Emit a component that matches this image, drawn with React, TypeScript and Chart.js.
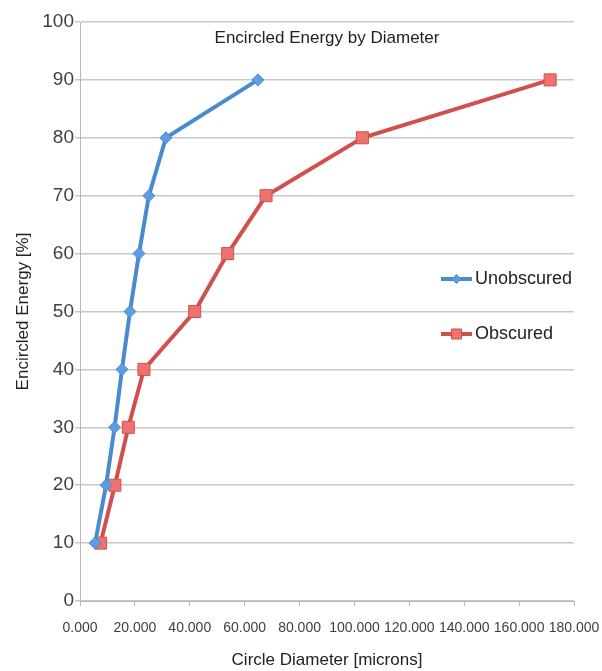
import React, { useEffect, useRef } from "react";
import { Chart, registerables } from "chart.js";

Chart.register(...registerables);

const energyLevels = [10, 20, 30, 40, 50, 60, 70, 80, 90];
const unobscuredDiam = [5.5, 9.5, 12.6, 15.3, 18.2, 21.5, 25.1, 31.3, 64.8];
const obscuredDiam = [7.5, 12.7, 17.6, 23.3, 41.8, 53.8, 67.8, 102.9, 171.3];
const seriesNames = ["Unobscured", "Obscured"];
const chartTitle = "Encircled Energy by Diameter";
const xTitle = "Circle Diameter [microns]";
const yTitle = "Encircled Energy [%]";

const FONT = "'Liberation Sans', Arial, sans-serif";
const TEXT = "#404040";
const BLUE = "#4a8bd0";
const BLUE_FILL = "#5f9de2";
const RED = "#d0504d";
const RED_FILL = "#f07270";

const overlayPlugin = {
  id: "overlay",
  afterDraw(chart: any) {
    const { ctx, chartArea } = chart;
    ctx.save();
    ctx.fillStyle = "#222";
    ctx.font = `17px ${FONT}`;
    ctx.textAlign = "center";
    ctx.textBaseline = "middle";
    ctx.fillText(chartTitle, (chartArea.left + chartArea.right) / 2, chartArea.top + 16);

    const items = [
      { name: seriesNames[0], color: BLUE, fill: BLUE_FILL, style: "rectRot", r: 4.5, y: 279 - 22 },
      { name: seriesNames[1], color: RED, fill: RED_FILL, style: "rect", r: 5, y: 334 - 22 },
    ];
    items.forEach((it) => {
      const y = chartArea.top + it.y;
      const x0 = chartArea.right - 133;
      const x1 = chartArea.right - 102;
      ctx.strokeStyle = it.color;
      ctx.lineWidth = 4;
      ctx.beginPath();
      ctx.moveTo(x0, y);
      ctx.lineTo(x1, y);
      ctx.stroke();
      ctx.fillStyle = it.fill;
      ctx.strokeStyle = it.color;
      ctx.lineWidth = 1;
      const cx = (x0 + x1) / 2;
      ctx.beginPath();
      if (it.style === "rectRot") {
        ctx.moveTo(cx, y - it.r);
        ctx.lineTo(cx + it.r, y);
        ctx.lineTo(cx, y + it.r);
        ctx.lineTo(cx - it.r, y);
        ctx.closePath();
      } else {
        ctx.rect(cx - it.r, y - it.r, it.r * 2, it.r * 2);
      }
      ctx.fill();
      ctx.stroke();
      ctx.fillStyle = "#222";
      ctx.font = `18px ${FONT}`;
      ctx.textAlign = "left";
      ctx.fillText(it.name, x1 + 3, y);
    });
    ctx.restore();
  },
};

export default function App() {
  const ref = useRef<HTMLCanvasElement>(null);
  useEffect(() => {
    document.body.style.margin = "0";
    const chart = new Chart(ref.current!, {
      type: "scatter",
      data: {
        datasets: [
          {
            label: seriesNames[0],
            data: unobscuredDiam.map((x, i) => ({ x, y: energyLevels[i] })),
            showLine: true,
            borderColor: BLUE,
            backgroundColor: BLUE_FILL,
            borderWidth: 4,
            pointStyle: "rectRot",
            pointRadius: 6,
            pointBorderWidth: 1,
            pointBorderColor: BLUE,
          },
          {
            label: seriesNames[1],
            data: obscuredDiam.map((x, i) => ({ x, y: energyLevels[i] })),
            showLine: true,
            borderColor: RED,
            backgroundColor: RED_FILL,
            borderWidth: 4,
            pointStyle: "rect",
            pointRadius: 8.5,
            pointBorderWidth: 1,
            pointBorderColor: RED,
          },
        ],
      },
      options: {
        animation: false,
        responsive: false,
        layout: { padding: { left: 0, top: 22, right: 28, bottom: 0 } },
        plugins: { legend: { display: false }, title: { display: false }, tooltip: { enabled: false } },
        scales: {
          x: {
            type: "linear",
            min: 0,
            max: 180,
            afterFit: (s: any) => { s.height = 70; s.paddingLeft = 0; s.paddingRight = 0; },
            ticks: {
              stepSize: 20,
              autoSkip: false,
              color: TEXT,
              font: { family: FONT, size: 14 },
              padding: 14,
              maxRotation: 0,
              callback: (v: any) => Number(v).toFixed(3),
            },
            grid: { display: true, drawOnChartArea: false, color: "#b8b8b8", tickLength: 5 },
            border: { color: "#b8b8b8" },
            title: { display: true, text: xTitle, color: "#222", font: { family: FONT, size: 17 }, padding: { top: 0, bottom: 0 } },
          },
          y: {
            type: "linear",
            min: 0,
            max: 100,
            afterFit: (s: any) => { s.width = 80; s.paddingTop = 0; s.paddingBottom = 0; },
            ticks: {
              stepSize: 10,
              color: TEXT,
              font: { family: FONT, size: 19 },
              padding: 1,
            },
            grid: { color: "#c8c8c8", tickLength: 5, lineWidth: 1.5 },
            border: { color: "#b8b8b8" },
            title: { display: true, text: yTitle, color: "#222", font: { family: FONT, size: 17 }, padding: { top: 13, bottom: 0 } },
          },
        },
      },
      plugins: [overlayPlugin],
    } as any);
    return () => chart.destroy();
  }, []);
  return <canvas ref={ref} width={602} height={671} style={{ display: "block" }} />;
}
